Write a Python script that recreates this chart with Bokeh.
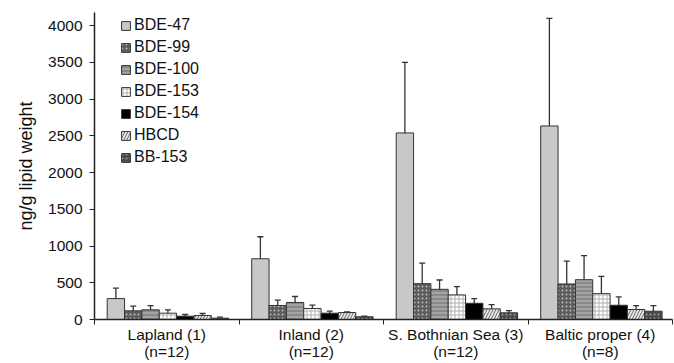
from bokeh.plotting import figure
from bokeh.models import (ColumnDataSource, Range1d, FixedTicker, Whisker, TeeHead,
                          Legend, LegendItem)
from bokeh.embed import file_html
from bokeh.resources import INLINE

# ---- data ----
groups = ["Lapland (1)\n(n=12)", "Inland (2)\n(n=12)",
          "S. Bothnian Sea (3)\n(n=12)", "Baltic proper (4)\n(n=8)"]
series = ["BDE-47", "BDE-99", "BDE-100", "BDE-153", "BDE-154", "HBCD", "BB-153"]

bde47 = [285, 827, 2540, 2635]
bde47_lo = [177, 595, 1830, 1695]
bde47_hi = [427, 1127, 3500, 4100]

bde99 = [118, 191, 488, 484]
bde99_lo = [68, 135, 308, 280]
bde99_hi = [181, 263, 768, 795]

bde100 = [132, 232, 411, 542]
bde100_lo = [77, 158, 312, 335]
bde100_hi = [190, 313, 538, 871]

bde153 = [86, 150, 335, 352]
bde153_lo = [54, 113, 244, 213]
bde153_hi = [132, 195, 447, 587]

bde154 = [45, 86, 221, 194]
bde154_lo = [25, 60, 160, 85]
bde154_hi = [68, 113, 285, 308]

hbcd = [54, 95, 145, 136]
hbcd_lo = [28, 86, 112, 108]
hbcd_hi = [82, 104, 203, 190]

bb153 = [18, 37, 91, 113]
bb153_lo = [8, 28, 68, 58]
bb153_hi = [31, 45, 122, 190]

y_ticks = [0, 500, 1000, 1500, 2000, 2500, 3000, 3500, 4000]

values = [bde47, bde99, bde100, bde153, bde154, hbcd, bb153]
lows = [bde47_lo, bde99_lo, bde100_lo, bde153_lo, bde154_lo, hbcd_lo, bb153_lo]
highs = [bde47_hi, bde99_hi, bde100_hi, bde153_hi, bde154_hi, hbcd_hi, bb153_hi]

styles = [
    dict(fill_color="#c8c8c8", hatch_pattern=None, hatch_color=None, scale=4),
    dict(fill_color="#5c5c5c", hatch_pattern="dot", hatch_color="#bdbdbd", scale=4),
    dict(fill_color="#a4a4a4", hatch_pattern="horizontal_line", hatch_color="#6e6e6e", scale=4),
    dict(fill_color="#ffffff", hatch_pattern="cross", hatch_color="#b0b0b0", scale=4),
    dict(fill_color="#000000", hatch_pattern=None, hatch_color=None, scale=4),
    dict(fill_color="#e6e6e6", hatch_pattern="right_diagonal_line", hatch_color="#707070", scale=6),
    dict(fill_color="#4a4a4a", hatch_pattern="dot", hatch_color="#a0a0a0", scale=4),
]

FONT = "Liberation Sans"

p = figure(width=673, height=363, output_backend="svg", toolbar_location=None,
           x_range=Range1d(0, 4), y_range=Range1d(0, 4180),
           min_border_left=94, min_border_right=1, min_border_top=12, min_border_bottom=42)
p.outline_line_color = None
p.xgrid.visible = False
p.ygrid.visible = False

offset = 0.088
bw = 0.12
items = []
for j, name in enumerate(series):
    xs = [i + offset + bw * (j + 0.5) for i in range(len(groups))]
    src = ColumnDataSource(dict(x=xs, top=values[j], lo=lows[j], hi=highs[j]))
    st = styles[j]
    kw = dict(x="x", top="top", width=bw, source=src, fill_color=st["fill_color"],
              line_color="#333333", line_width=1)
    if st["hatch_pattern"]:
        kw.update(hatch_pattern=st["hatch_pattern"], hatch_color=st["hatch_color"],
                  hatch_scale=st["scale"], hatch_weight=1)
    r = p.vbar(**kw)
    items.append(LegendItem(label=name, renderers=[r]))
    w = Whisker(base="x", lower="lo", upper="hi", source=src,
                line_color="#333333", line_width=1.3,
                upper_head=TeeHead(size=6, line_color="#333333", line_width=1.3),
                lower_head=TeeHead(size=6, line_color="#333333", line_width=1.3))
    p.add_layout(w)

legend = Legend(items=items, location=(26, 153), padding=0, margin=0,
                spacing=4, glyph_width=11, glyph_height=11, label_height=18,
                label_standoff=3, label_text_font=FONT, label_text_font_size="16px",
                label_text_color="#111111", border_line_color=None,
                background_fill_alpha=0)
p.add_layout(legend)

# axes
p.xaxis.ticker = FixedTicker(ticks=[0.5, 1.5, 2.5, 3.5], minor_ticks=[0, 1, 2, 3, 4])
p.xaxis.major_label_overrides = {0.5: groups[0], 1.5: groups[1], 2.5: groups[2], 3.5: groups[3]}
p.xaxis.major_tick_out = 0
p.xaxis.major_tick_in = 0
p.xaxis.minor_tick_out = 5
p.xaxis.minor_tick_in = 0
p.xaxis.minor_tick_line_color = "#222222"
p.xaxis.axis_line_color = "#222222"
p.xaxis.axis_line_width = 1.5
p.xaxis.major_label_text_font = FONT
p.xaxis.major_label_text_font_size = "15.5px"
p.xaxis.major_label_text_line_height = 1.05
p.xaxis.major_label_text_color = "#111111"
p.xaxis.major_label_standoff = 1

p.yaxis.ticker = FixedTicker(ticks=y_ticks)
p.yaxis.minor_tick_line_color = None
p.yaxis.major_tick_out = 5
p.yaxis.major_tick_in = 0
p.yaxis.major_tick_line_color = "#222222"
p.yaxis.axis_line_color = "#222222"
p.yaxis.axis_line_width = 1.5
p.yaxis.major_label_text_font = FONT
p.yaxis.major_label_text_font_size = "15.5px"
p.yaxis.major_label_text_color = "#111111"
p.yaxis.major_label_standoff = 7
p.yaxis.axis_label = "ng/g lipid weight"
p.yaxis.axis_label_text_font = FONT
p.yaxis.axis_label_text_font_size = "18px"
p.yaxis.axis_label_text_font_style = "normal"
p.yaxis.axis_label_text_color = "#111111"
p.yaxis.axis_label_standoff = 9

open("out.html", "w").write(file_html(p, INLINE))
